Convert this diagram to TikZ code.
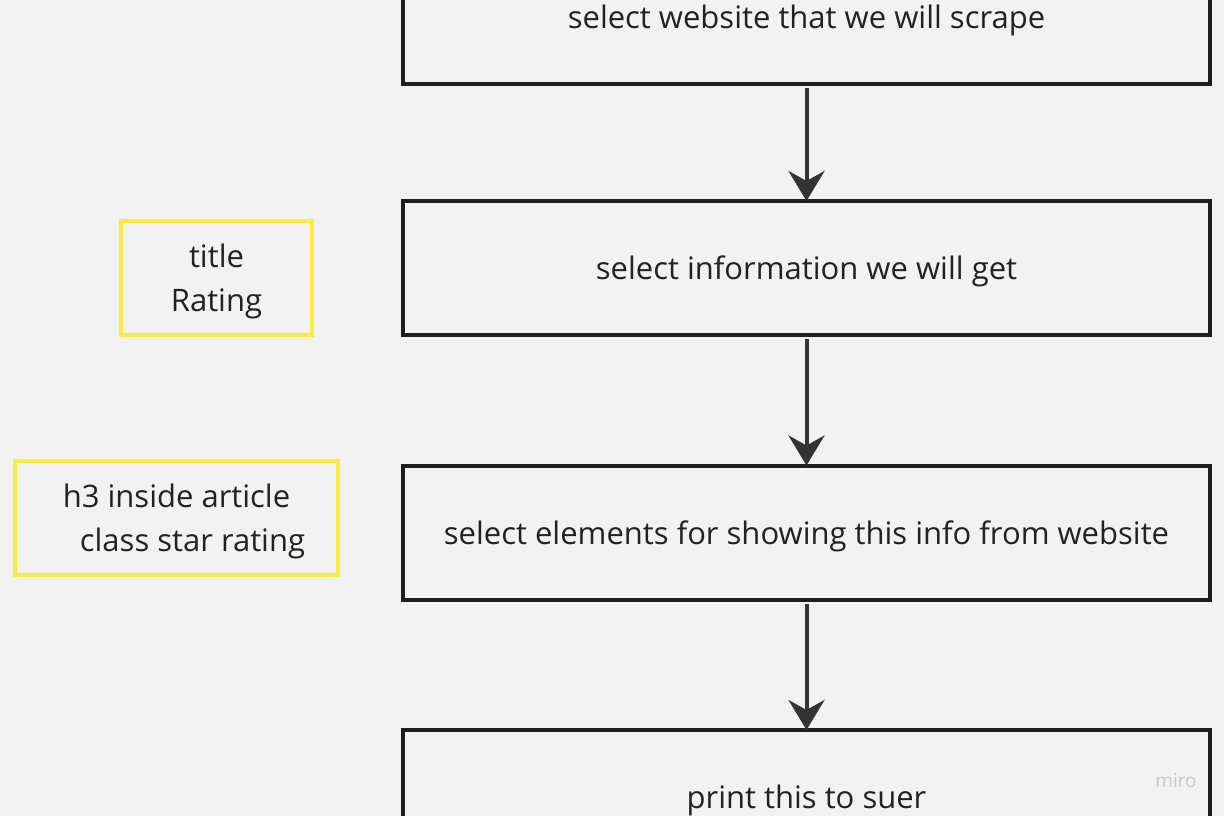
\documentclass[tikz,border=0pt]{standalone}
\usepackage{fontspec}
\setmainfont{Open Sans}
\usetikzlibrary{arrows.meta}
\definecolor{bg}{HTML}{F2F2F2}
\definecolor{ink}{HTML}{1E1E1E}
\definecolor{arr}{HTML}{333333}
\definecolor{yel}{HTML}{FAEB3C}
\definecolor{txt}{HTML}{222222}
\tikzset{
  stepbox/.style={draw=ink, line width=4pt, fill=none, minimum width=807pt, minimum height=134pt, inner sep=0pt, text=txt, font=\fontsize{31}{36}\selectfont, text height=26pt, text depth=3pt},
  notebox/.style={draw=yel, line width=4pt, inner sep=0pt},
  notetext/.style={text=txt, font=\fontsize{31}{36}\selectfont, inner sep=0pt, text height=26pt, text depth=3pt},
  flow/.style={draw=arr, line width=4pt, -{Stealth[length=30pt,width=36pt,inset=10pt]}}
}
\begin{document}
\begin{tikzpicture}[x=1pt,y=-1pt]
\useasboundingbox (0,0) rectangle (1224,816);
\fill[bg] (0,0) rectangle (1224,816);
\clip (0,0) rectangle (1224,816);
\node[stepbox] (s1) at (806.5,17) {select website that we will scrape};
\node[stepbox] (s2) at (806.5,268) {select information we will get};
\node[stepbox] (s3) at (806.5,532.5) {select elements for showing this info from website};
\node[stepbox] (s4) at (806.5,797) {print this to suer};
\draw[flow] ([yshift=-2pt]s1.south) -- ([yshift=-2pt]s2.north);
\draw[flow] ([yshift=-2pt]s2.south) -- ([yshift=-2pt]s3.north);
\draw[flow] ([yshift=-2pt]s3.south) -- ([yshift=-2pt]s4.north);
\node[notebox, minimum width=191pt, minimum height=114pt] (n1) at (216.5,278) {};
\node[notetext] (n1a) at (216.5,256) {title};
\node[notetext] (n1b) at (216.5,300) {Rating};
\node[notebox, minimum width=323pt, minimum height=114pt] (n2) at (176.5,518) {};
\node[notetext] (n2a) at (176.5,496) {h3 inside article};
\node[notetext] (n2b) at (192.5,540) {class star rating};
\node[text=black!22, font=\fontsize{19}{22}\selectfont, inner sep=0pt] (wm) at (1176,781) {miro};
\end{tikzpicture}
\end{document}
